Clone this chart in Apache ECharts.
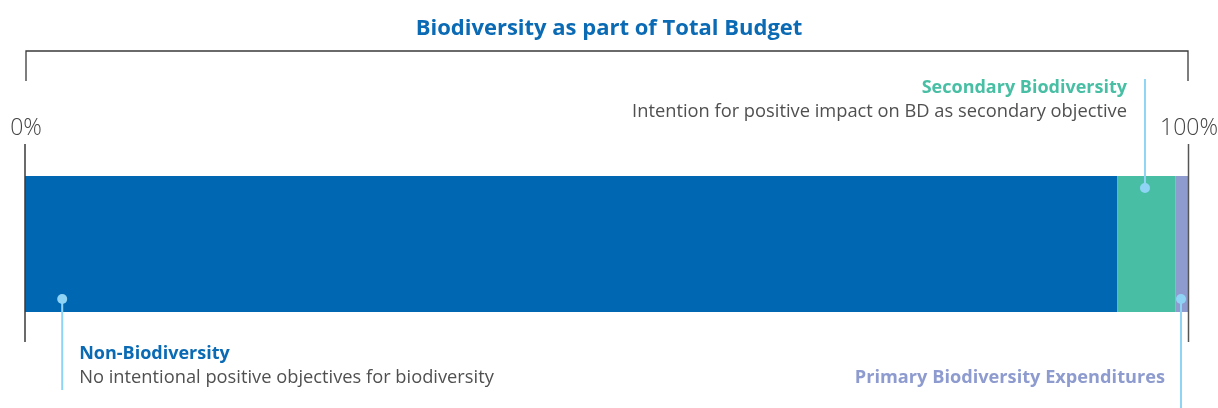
<!DOCTYPE html>
<html>
<head>
<meta charset="utf-8">
<script src="https://cdn.jsdelivr.net/npm/echarts@6/dist/echarts.min.js"></script>
<style>
  html, body { margin: 0; padding: 0; background: #fff; }
  #chart { width: 1218px; height: 408px; }
</style>
</head>
<body>
<div id="chart"></div>
<script>
// data
const categories = ['Total Budget'];
const seriesNames = ['Non-Biodiversity', 'Secondary Biodiversity', 'Primary Biodiversity Expenditures'];
const shares = [93.9, 5.0, 1.1];
const descriptions = [
  'No intentional positive objectives for biodiversity',
  'Intention for positive impact on BD as secondary objective',
  ''
];
const tickLabels = ['0%', '100%'];
const tickValues = [0, 100];
// where along the bar each callout is pinned (percent)
const calloutAt = [3.2, 96.3, 99.4];

const colors = ['#0068b2', '#48bfa4', '#8e9bcf'];
const titleColors = ['#0a6ab4', '#48bfa4', '#8e9bcf'];
const FONT = '"Open Sans", "Noto Sans", sans-serif';

const GRID = { left: 25, right: 30, top: 176, height: 136 };

const chart = echarts.init(document.getElementById('chart'));

const option = {
  backgroundColor: '#fff',
  animation: false,
  title: {
    text: 'Biodiversity as part of Total Budget',
    left: 'center',
    top: 13,
    textStyle: { color: '#0a6ab4', fontSize: 22, fontWeight: 'bold', fontFamily: FONT }
  },
  grid: GRID,
  xAxis: {
    type: 'value', min: 0, max: 100,
    show: false
  },
  yAxis: {
    type: 'category', data: categories, show: false
  },
  series: seriesNames.map((name, i) => ({
    name: name,
    type: 'bar',
    stack: 'total',
    barWidth: '100%',
    itemStyle: { color: colors[i] },
    data: [shares[i]]
  }))
};
chart.setOption(option);

function px(v) {
  return chart.convertToPixel({ xAxisIndex: 0 }, v);
}

const barTop = GRID.top, barBottom = GRID.top + GRID.height;
const g = [];
const lineCol = '#3a3a3a';
const Z = 100;

// bracket on top
const x0 = px(tickValues[0]), x1 = px(tickValues[1]);
g.push({ type: 'polyline', z: Z, shape: { points: [[x0 + 1, 81], [x0 + 1, 51], [x1, 51], [x1, 81]] },
  style: { stroke: lineCol, lineWidth: 1.3, fill: null } });
// axis end ticks
tickValues.forEach((v, i) => {
  const x = px(v) + (i === 0 ? 0 : 0.5);
  g.push({ type: 'line', z: Z, shape: { x1: x, y1: 144, x2: x, y2: 342 },
    style: { stroke: i === 0 ? lineCol : '#555', lineWidth: 1.5 } });
  g.push({ type: 'text', z: Z, x: px(v) + 1, y: 128,
    style: { text: tickLabels[i], fill: '#444', font: '300 23px ' + FONT,
      align: 'center', verticalAlign: 'middle' } });
});

// callouts
const blue = '#8fd4f4';
function dot(x, y) {
  g.push({ type: 'circle', z: Z + 1, shape: { cx: x, cy: y, r: 5 }, style: { fill: blue } });
}
function vline(x, ya, yb) {
  g.push({ type: 'line', z: Z, shape: { x1: x, y1: ya, x2: x, y2: yb }, style: { stroke: blue, lineWidth: 2 } });
}

// Non-Biodiversity (below, left aligned)
let cx = px(calloutAt[0]);
vline(cx, barBottom - 13, 390);
dot(cx, barBottom - 13);
g.push({ type: 'text', z: Z, x: cx + 17, y: 354, style: { text: seriesNames[0], fill: titleColors[0],
  font: 'bold 18px ' + FONT, align: 'left', verticalAlign: 'middle' } });
g.push({ type: 'text', z: Z, x: cx + 17, y: 378, style: { text: descriptions[0], fill: '#505050',
  font: '18.3px ' + FONT, align: 'left', verticalAlign: 'middle' } });

// Secondary (above, right aligned)
cx = px(calloutAt[1]);
vline(cx, 79, barTop + 12);
dot(cx, barTop + 12);
g.push({ type: 'text', z: Z, x: cx - 18, y: 88, style: { text: seriesNames[1], fill: titleColors[1],
  font: 'bold 18px ' + FONT, align: 'right', verticalAlign: 'middle' } });
g.push({ type: 'text', z: Z, x: cx - 18, y: 112, style: { text: descriptions[1], fill: '#505050',
  font: '18.3px ' + FONT, align: 'right', verticalAlign: 'middle' } });

// Primary (below, right aligned)
cx = px(calloutAt[2]);
vline(cx, barBottom - 13, 408);
dot(cx, barBottom - 13);
g.push({ type: 'text', z: Z, x: cx - 16, y: 378, style: { text: seriesNames[2], fill: titleColors[2],
  font: 'bold 18.2px ' + FONT, align: 'right', verticalAlign: 'middle' } });

chart.setOption({ graphic: g });
</script>
</body>
</html>
